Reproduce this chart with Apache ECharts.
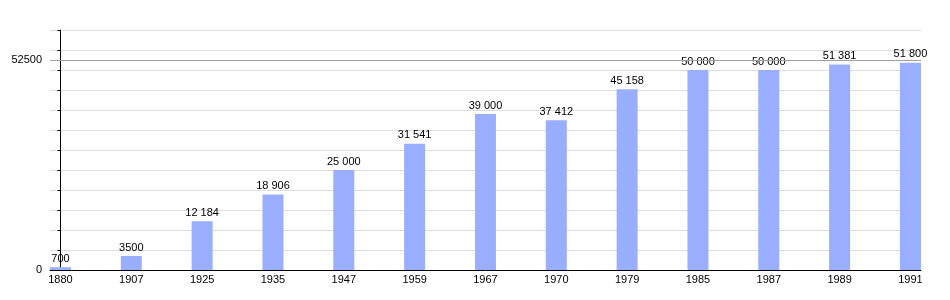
<!DOCTYPE html>
<html><head><meta charset="utf-8">
<script src="https://cdn.jsdelivr.net/npm/echarts@6/dist/echarts.min.js"></script>
<style>html,body{margin:0;padding:0;background:#fff}#c{width:950px;height:300px}</style>
</head><body><div id="c"></div>
<script>
const years = ['1880','1907','1925','1935','1947','1959','1967','1970','1979','1985','1987','1989','1991'];
const population = [700, 3500, 12184, 18906, 25000, 31541, 39000, 37412, 45158, 50000, 50000, 51381, 51800];
const yTickLabels = [0, 52500];
const referenceLine = 52500;

function fmt(v){
  if (v < 10000) return String(v);
  return String(v).replace(/\B(?=(\d{3})+(?!\d))/g, ' ');
}
const idx = years.map((_, i) => i);
const chart = echarts.init(document.getElementById('c'), null, {renderer:'canvas'});
chart.setOption({
  animation: false,
  textStyle: {fontFamily: 'Liberation Sans, Arial, sans-serif'},
  grid: {left: 50, right: 29, top: 30, bottom: 30},
  xAxis: {
    type: 'value', min: -0.148, max: 12.149,
    axisLine: {show: true, lineStyle: {color: '#000', width: 1}},
    axisTick: {show: false},
    splitLine: {show: false},
    axisLabel: {customValues: idx, formatter: v => years[Math.round(v)], color: '#000', fontSize: 11, margin: 4}
  },
  yAxis: {
    type: 'value', min: 0, max: 60000, interval: 5000,
    axisLine: {show: true, lineStyle: {color: '#000', width: 1}},
    axisTick: {show: true, length: 3, lineStyle: {color: '#000'}},
    splitLine: {show: true, lineStyle: {color: '#dddddd', width: 1}},
    axisLabel: {customValues: yTickLabels, formatter: v => String(v), color: '#000', fontSize: 11, margin: 8}
  },
  series: [{
    type: 'bar',
    barWidth: 21,
    data: population.map((v, i) => [i, v]),
    itemStyle: {color: '#9aaeff'},
    label: {show: true, position: 'top', distance: 3, color: '#000', fontSize: 11,
      formatter: p => fmt(p.value[1])},
    markLine: {
      silent: true, symbol: 'none', label: {show: false},
      lineStyle: {color: '#a0a0a0', type: 'solid', width: 1},
      data: [{yAxis: referenceLine}]
    }
  }]
});
</script></body></html>
